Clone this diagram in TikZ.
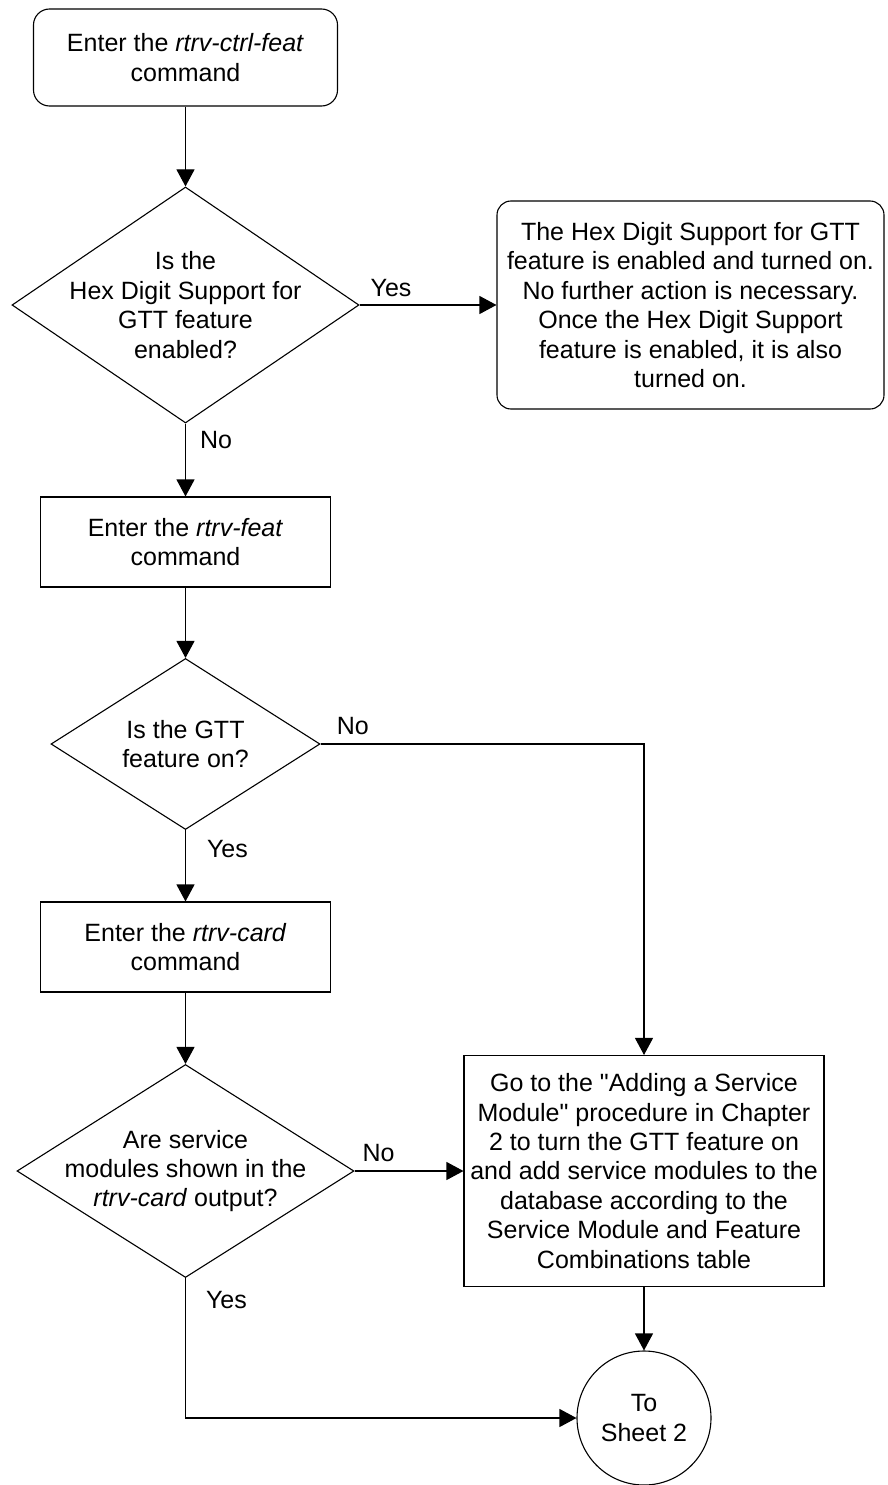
\documentclass[tikz,border=0pt]{standalone}
\usepackage{fontspec}
\setmainfont{Liberation Sans}[Ligatures=TeXOff]
\usetikzlibrary{shapes.geometric, arrows.meta}

\begin{document}
\begin{tikzpicture}[x=1pt, y=-1pt, line width=1.1pt,
        every node/.style={font=\fontsize{25}{29.4}\selectfont},
        process/.style={draw, minimum width=290pt, minimum height=90pt, align=center, inner sep=2pt},
        terminal/.style={draw, rounded corners=16pt, align=center, inner sep=2pt},
        decision/.style={draw, diamond, inner sep=0pt},
        qtext/.style={align=center, inner sep=0pt},
        connector/.style={draw, circle, minimum size=134pt, align=center, inner sep=0pt},
        lbl/.style={inner sep=0pt},
        >={Triangle[length=17pt,width=18pt]}
    ]
        \useasboundingbox (0,0) rectangle (887,1485);
        % Columna izquierda: flujo principal de arriba hacia abajo
        \node[terminal, minimum width=304pt, minimum height=97pt] (S0) at (185.5,57.5) {Enter the \textit{rtrv-ctrl-feat}\\command};
        \node[decision, minimum width=347pt, minimum height=236pt] (D1) at (185.5,305) {};
        \node[qtext] (D1t) at (D1) {Is the\\Hex Digit Support for\\GTT feature\\enabled?};
        \node[terminal, rounded corners=14pt, minimum width=387pt, minimum height=208pt] (T1) at (690.5,305) {The Hex Digit Support for GTT\\feature is enabled and turned on.\\No further action is necessary.\\Once the Hex Digit Support\\feature is enabled, it is also\\turned on.};
        \node[process] (P1) at (185.5,542) {Enter the \textit{rtrv-feat}\\command};
        \node[decision, minimum width=269pt, minimum height=171pt] (D2) at (185.5,744) {};
        \node[qtext] (D2t) at (D2) {Is the GTT\\feature on?};
        \node[process] (P2) at (185.5,947) {Enter the \textit{rtrv-card}\\command};
        \node[decision, minimum width=337pt, minimum height=213pt] (D3) at (185.5,1171) {};
        \node[qtext] (D3t) at (D3) {Are service\\modules shown in the\\\textit{rtrv-card} output?};
        % Columna derecha
        \node[process, minimum width=360pt, minimum height=231pt] (P3) at (644,1171) {Go to the "Adding a Service\\Module" procedure in Chapter\\2 to turn the GTT feature on\\and add service modules to the\\database according to the\\Service Module and Feature\\Combinations table};
        \node[connector] (C1) at (644,1418) {To\\Sheet 2};
        % Flechas
        \draw[->] (S0) -- (D1);
        \draw[->] (D1) -- node[lbl, above=8pt, pos=0.23] {Yes} (T1);
        \draw[->] (D1) -- node[lbl, right=14pt, pos=0.23] {No} (P1);
        \draw[->] (P1) -- (D2);
        \draw[->] (D2.east) -| node[lbl, above=9pt, pos=0.05] {No} (P3.north);
        \draw[->] (D2) -- node[lbl, right=21pt, pos=0.27] {Yes} (P2);
        \draw[->] (P2) -- (D3);
        \draw[->] (D3) -- node[lbl, above=9pt, pos=0.22] {No} (P3);
        \draw[->] (D3.south) |- node[lbl, right=20pt, pos=0.08] {Yes} (C1.west);
        \draw[->] (P3) -- (C1);
    \end{tikzpicture}
\end{document}
